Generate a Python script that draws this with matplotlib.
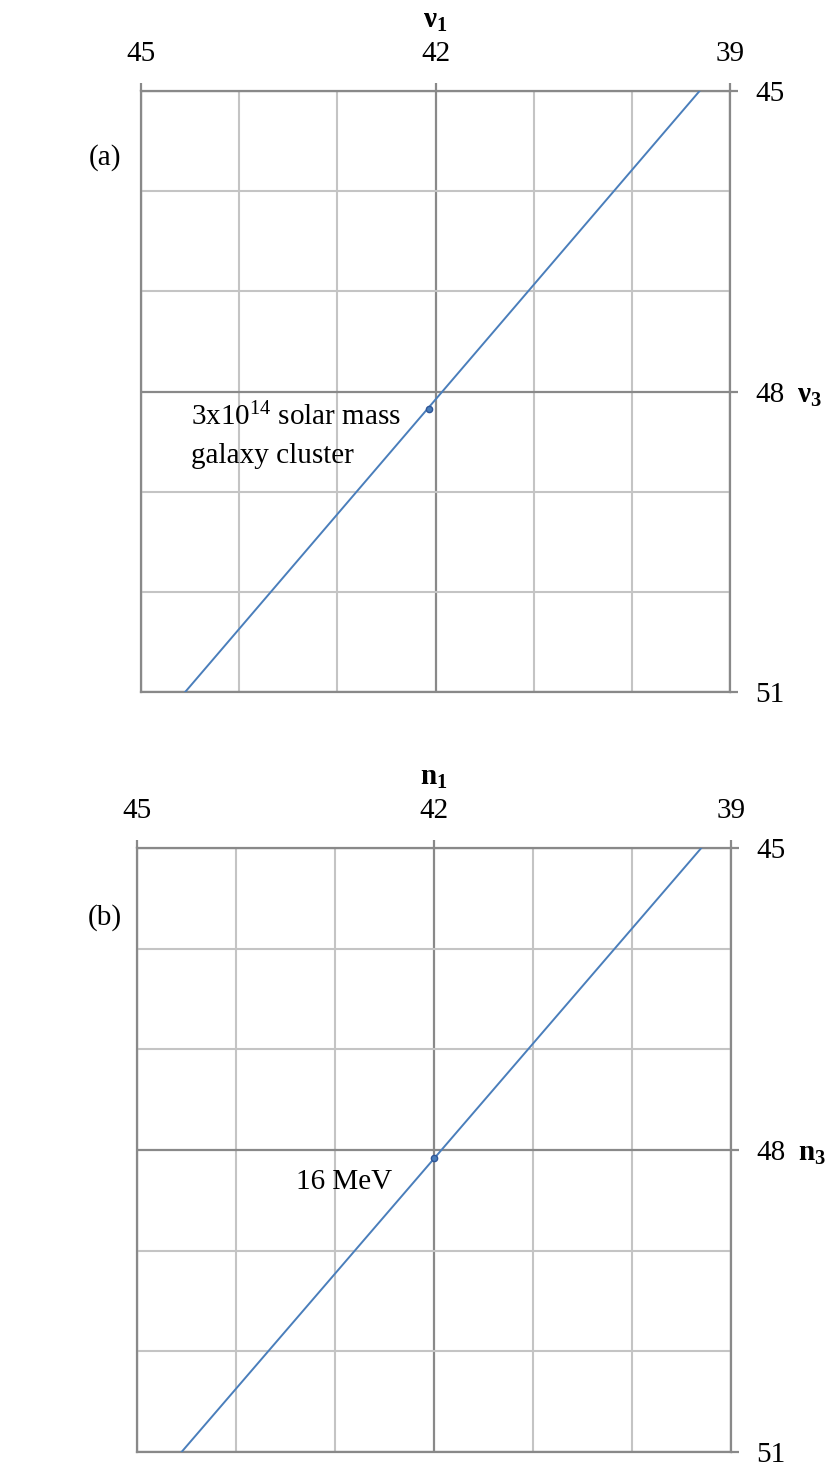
import matplotlib
matplotlib.use("Agg")
import matplotlib.pyplot as plt
from matplotlib.ticker import MultipleLocator

plt.rcParams["font.family"] = ["Liberation Serif", "DejaVu Serif"]
plt.rcParams["mathtext.fontset"] = "custom"
plt.rcParams["mathtext.rm"] = "Liberation Serif"
plt.rcParams["mathtext.it"] = "Liberation Serif:italic"
plt.rcParams["mathtext.bf"] = "Liberation Serif:bold"

# panel (a): nu_1 vs nu_3
line_a_x = [44.55, 39.31]
line_a_y = [51.0, 45.0]
point_a_x = [42.07]
point_a_y = [48.17]

# panel (b): n_1 vs n_3
line_b_x = [44.55, 39.30]
line_b_y = [51.0, 45.0]
point_b_x = [42.0]
point_b_y = [48.08]

x_ticks = [45, 42, 39]
y_ticks = [45, 48, 51]

BLUE = "#4A7EBB"
MAJOR = "#898989"
MINOR = "#C4C4C4"
FS = 21

W, H = 825, 1468
fig = plt.figure(figsize=(W / 100, H / 100), dpi=100)


def px_axes(left, top, right, bottom):
    return fig.add_axes([left / W, 1 - bottom / H, (right - left) / W, (bottom - top) / H])


def setup(ax, xlab, ylab):
    ax.set_xlim(45, 39)
    ax.set_ylim(51, 45)
    ax.xaxis.tick_top()
    ax.yaxis.tick_right()
    ax.set_xticks(x_ticks)
    ax.set_yticks(y_ticks)
    ax.xaxis.set_minor_locator(MultipleLocator(1))
    ax.yaxis.set_minor_locator(MultipleLocator(1))
    ax.grid(which="minor", color=MINOR, lw=1.5, zorder=0)
    ax.grid(which="major", color=MAJOR, lw=1.6, zorder=0)
    for s in ax.spines.values():
        s.set_color(MAJOR)
        s.set_linewidth(1.6)
    ax.tick_params(which="major", direction="out", length=6, width=1.6,
                   color=MAJOR, labelsize=FS, top=True, bottom=False,
                   left=False, right=True)
    ax.tick_params(axis="x", which="major", pad=11)
    ax.tick_params(axis="y", which="major", pad=12)
    ax.tick_params(which="minor", length=0)
    ax.set_axisbelow(True)
    ax.xaxis.set_label_position("top")
    ax.set_xlabel(xlab, fontsize=FS, labelpad=10)
    ax.annotate(ylab, xy=(1, 48), xycoords=("axes fraction", "data"),
                xytext=(48, -3), textcoords="offset points",
                ha="left", va="center", fontsize=FS)


ax_a = px_axes(141, 91, 730, 692)
setup(ax_a, r"$\mathbf{\nu}_\mathbf{1}$", r"$\mathbf{\nu}_\mathbf{3}$")
ax_a.plot(line_a_x, line_a_y, color=BLUE, lw=1.4, zorder=3)
ax_a.plot(point_a_x, point_a_y, "o", ms=4.5, color=BLUE, mec="#2F5597",
          mew=1, zorder=4)
ax_a.text(44.49, 48.34, r"3x10$^{14}$ solar mass", fontsize=FS,
          ha="left", va="baseline", zorder=5)
ax_a.text(44.49, 48.71, "galaxy cluster", fontsize=FS,
          ha="left", va="baseline", zorder=5)

ax_b = px_axes(137, 848, 731, 1452)
setup(ax_b, r"$\mathbf{n}_\mathbf{1}$", r"$\mathbf{n}_\mathbf{3}$")
ax_b.plot(line_b_x, line_b_y, color=BLUE, lw=1.4, zorder=3)
ax_b.plot(point_b_x, point_b_y, "o", ms=4.5, color=BLUE, mec="#2F5597",
          mew=1, zorder=4)
ax_b.text(42.42, 48.39, "16 MeV", fontsize=FS, ha="right", va="baseline",
          zorder=5)

fig.text(105 / W, 1 - 158 / H, "(a)", fontsize=FS, ha="center", va="center")
fig.text(105 / W, 1 - 918 / H, "(b)", fontsize=FS, ha="center", va="center")

fig.savefig("out.png", dpi=100)
